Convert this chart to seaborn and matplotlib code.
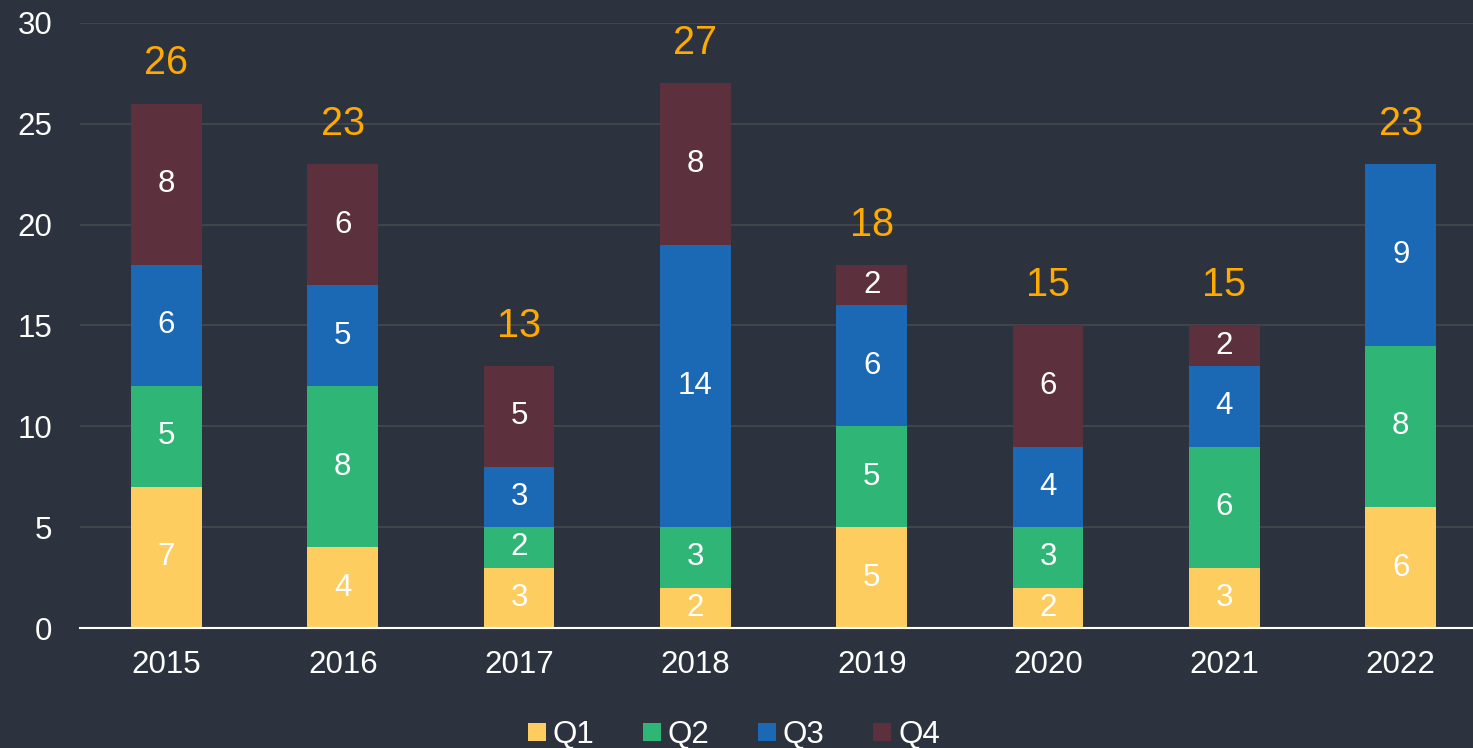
import numpy as np
import pandas as pd
import seaborn as sns
import matplotlib.pyplot as plt
from matplotlib.lines import Line2D

years = ["2015", "2016", "2017", "2018", "2019", "2020", "2021", "2022"]
q1 = [7, 4, 3, 2, 5, 2, 3, 6]
q2 = [5, 8, 2, 3, 5, 3, 6, 8]
q3 = [6, 5, 3, 14, 6, 4, 4, 9]
q4 = [8, 6, 5, 8, 2, 6, 2, 0]

quarters = ["Q1", "Q2", "Q3", "Q4"]
colors = ["#fecd5f", "#2fb677", "#1b68b5", "#5c313d"]
bg = "#2d333e"

sns.set_theme(style="dark")
plt.rcParams['font.family'] = ['Liberation Sans', 'DejaVu Sans']

df = pd.DataFrame({"year": years, "Q1": q1, "Q2": q2, "Q3": q3, "Q4": q4})
cum = df[quarters].cumsum(axis=1)

fig = plt.figure(figsize=(14.73, 7.48), dpi=100, facecolor=bg)
ax = fig.add_axes([0.0543, 0.1604, 0.9457, 0.8089])
ax.set_facecolor(bg)

# stacked bars: draw cumulative totals from top segment down
for i in range(3, -1, -1):
    sns.barplot(x=df["year"], y=cum[quarters[i]], color=colors[i], width=0.40,
                saturation=1, ax=ax, linewidth=0, zorder=2)

# segment labels
vals = df[quarters].values
for j in range(len(years)):
    base = 0
    for i in range(4):
        v = vals[j, i]
        if v > 0:
            ax.text(j, base + v / 2, str(v), ha="center", va="center",
                    color="white", fontsize=22.5, zorder=3)
        base += v
    ax.annotate(str(base), (j, base), xytext=(0, 29), textcoords="offset points",
                ha="center", va="center", color="#ffaa00", fontsize=28.5)

ax.set_ylim(0, 30)
ax.set_xlim(-0.49, 7.41)
ax.set_yticks(range(0, 31, 5))
ax.yaxis.grid(True, color="#46494a", linewidth=1.2, zorder=0)
ax.xaxis.grid(False)
ax.set_axisbelow(True)
ax.set_xlabel("")
ax.set_ylabel("")
ax.tick_params(axis="both", colors="white", labelsize=22.5, length=0)
ax.tick_params(axis="x", pad=16)
ax.tick_params(axis="y", pad=20)
for s in ["top", "right", "left"]:
    ax.spines[s].set_visible(False)
ax.spines["bottom"].set_color("white")
ax.spines["bottom"].set_linewidth(1.5)
ax.spines["bottom"].set_zorder(4)

handles = [Line2D([], [], marker="s", linestyle="", markersize=13,
                  markerfacecolor=c, markeredgewidth=0) for c in colors]
fig.legend(handles, quarters, loc="center", bbox_to_anchor=(0.497, 0.018),
           ncol=4, frameon=False, fontsize=22.5, labelcolor="white",
           handletextpad=0.1, columnspacing=1.45, handlelength=0.8)

fig.savefig("out.png", dpi=100, facecolor=bg)
